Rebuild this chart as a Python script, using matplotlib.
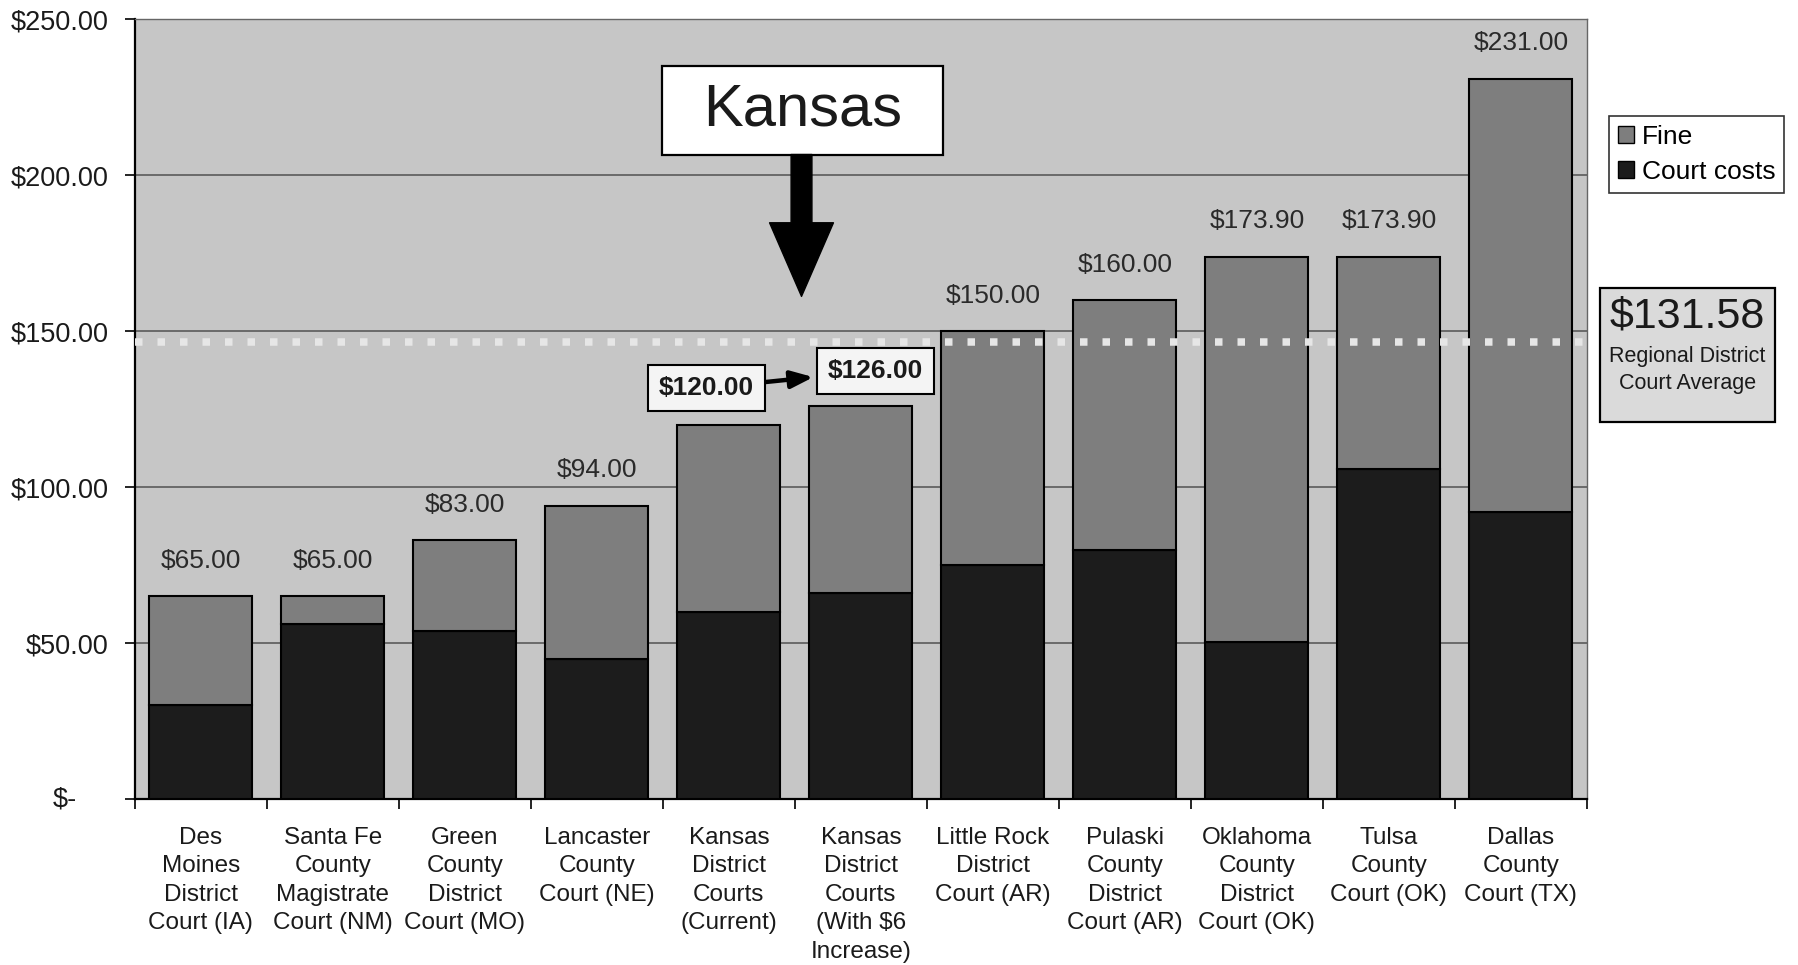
import matplotlib
matplotlib.use("Agg")
import matplotlib.pyplot as plt
from matplotlib.patches import Rectangle, Patch
import numpy as np

plt.rcParams['font.family'] = ['Liberation Sans', 'DejaVu Sans']

# ---------------- data ----------------
categories = [
    "Des\nMoines\nDistrict\nCourt (IA)",
    "Santa Fe\nCounty\nMagistrate\nCourt (NM)",
    "Green\nCounty\nDistrict\nCourt (MO)",
    "Lancaster\nCounty\nCourt (NE)",
    "Kansas\nDistrict\nCourts\n(Current)",
    "Kansas\nDistrict\nCourts\n(With $6\nIncrease)",
    "Little Rock\nDistrict\nCourt (AR)",
    "Pulaski\nCounty\nDistrict\nCourt (AR)",
    "Oklahoma\nCounty\nDistrict\nCourt (OK)",
    "Tulsa\nCounty\nCourt (OK)",
    "Dallas\nCounty\nCourt (TX)",
]
totals = [65.00, 65.00, 83.00, 94.00, 120.00, 126.00, 150.00, 160.00, 173.90, 173.90, 231.00]
court_costs = [30, 56, 54, 45, 60, 66, 75, 80, 50.5, 106, 92]
fines = [t - c for t, c in zip(totals, court_costs)]
total_labels = ["$65.00", "$65.00", "$83.00", "$94.00", "$120.00", "$126.00",
                "$150.00", "$160.00", "$173.90", "$173.90", "$231.00"]
boxed_labels = [4, 5]          # Kansas bars use boxed labels
y_ticks = [0, 50, 100, 150, 200, 250]
y_tick_labels = ["", "$50.00", "$100.00", "$150.00", "$200.00", "$250.00"]
average_label = "$131.58"
average_line_level = 146.5     # where the dotted line sits in the picture

# ---------------- style ----------------
bg_gray = "#c6c6c6"
fine_gray = "#7e7e7e"
court_black = "#1c1c1c"
text_col = "#1a1a1a"

fig = plt.figure(figsize=(17.99, 9.65), dpi=100)
fig.patch.set_facecolor("white")
ax = fig.add_axes([0.0750, 0.1720, 0.8071, 0.8078])
ax.set_facecolor(bg_gray)

x = np.arange(len(categories))
w = 0.78
ax.bar(x, court_costs, width=w, color=court_black, edgecolor="black", linewidth=1.5, zorder=3,
       label="Court costs")
ax.bar(x, fines, bottom=court_costs, width=w, color=fine_gray, edgecolor="black", linewidth=1.5,
       zorder=3, label="Fine")

ax.set_xlim(-0.5, len(categories) - 0.5)
ax.set_ylim(0, 250)

# grid
ax.set_yticks(y_ticks)
ax.set_yticklabels(y_tick_labels, fontsize=19.5, color=text_col)
ax.yaxis.grid(True, color="#5a5a5a", linewidth=1.2, zorder=1)
ax.set_axisbelow(True)
ax.tick_params(axis="y", length=7, width=1.2, pad=12, color="black")
ax.annotate("$-", xy=(0, 0), xycoords=("axes fraction", "data"), xytext=(-42, 0),
            textcoords="offset points", ha="right", va="center", fontsize=19.5, color=text_col)

ax.set_xticks(x)
ax.set_xticklabels(categories, fontsize=17.5, color=text_col, linespacing=1.38,
                   multialignment="center", va="top")
ax.tick_params(axis="x", length=0, pad=20)
ax.set_xticks(np.arange(len(categories) + 1) - 0.5, minor=True)
ax.tick_params(axis="x", which="minor", length=7, width=1.2, color="black")

for s in ["left", "bottom"]:
    ax.spines[s].set_color("black")
    ax.spines[s].set_linewidth(1.6)
for s in ["top", "right"]:
    ax.spines[s].set_color("#666666")
    ax.spines[s].set_linewidth(1.0)

# value labels
for i, (t, lab) in enumerate(zip(totals, total_labels)):
    if i in boxed_labels:
        continue
    ax.annotate(lab, xy=(x[i], t), xytext=(0, 17), textcoords="offset points",
                ha="center", va="bottom", fontsize=19, color="#2a2a2a", zorder=5)

# dotted average line
ax.axhline(average_line_level, xmin=0, xmax=1.004, color="#e6e6e6", linewidth=5.4,
           dashes=(1.0, 2.0), dash_capstyle="butt", zorder=4, clip_on=False)

# boxed Kansas labels with arrow
box_kw = dict(boxstyle="square,pad=0.42", facecolor="#f4f4f4", edgecolor="black", linewidth=1.5)
ax.text(5.11, 137.2, total_labels[5], ha="center", va="center", fontsize=19, fontweight="bold",
        color=text_col, bbox=box_kw, zorder=6)
ax.annotate(total_labels[4], xy=(4.64, 135.3), xytext=(3.83, 131.8), ha="center", va="center",
            fontsize=19, fontweight="bold", color=text_col, bbox=box_kw, zorder=6,
            arrowprops=dict(arrowstyle="-|>,head_length=0.9,head_width=0.35", color="black",
                            lw=3.2, shrinkA=0, shrinkB=0, mutation_scale=15))

# Kansas callout
ax.add_patch(Rectangle((3.49, 206.7), 5.62 - 3.49, 235.1 - 206.7, facecolor="white",
                       edgecolor="black", linewidth=1.6, zorder=6))
ax.text(4.555, 221.0, "Kansas", ha="center", va="center", fontsize=43, color=text_col, zorder=7)
ax.annotate("", xy=(4.55, 161.2), xytext=(4.55, 206.7),
            arrowprops=dict(arrowstyle="simple,head_length=5.3,head_width=4.6,tail_width=1.5",
                            mutation_scale=10, color="black", shrinkA=0, shrinkB=0), zorder=6)

# legend
handles = [Patch(facecolor=fine_gray, edgecolor="black", label="Fine"),
           Patch(facecolor=court_black, edgecolor="black", label="Court costs")]
leg = fig.legend(handles=handles, loc="upper left", bbox_to_anchor=(1609 / 1799, 1 - 116 / 965),
                 fontsize=19, frameon=True, fancybox=False, edgecolor="black",
                 handlelength=0.62, handleheight=0.62, handletextpad=0.3,
                 borderpad=0.33, labelspacing=0.42, borderaxespad=0)
leg.get_frame().set_linewidth(1.2)

# average box
fig.patches.append(Rectangle((1600 / 1799, 1 - 422 / 965), 175 / 1799, 134 / 965,
                             transform=fig.transFigure, facecolor="#dadada", edgecolor="black",
                             linewidth=1.6, zorder=1))
fig.text(1687.5 / 1799, 1 - 317 / 965, average_label, ha="center", va="center", fontsize=31,
         color=text_col, zorder=2)
fig.text(1687.5 / 1799, 1 - 370 / 965, "Regional District\nCourt Average", ha="center",
         va="center", fontsize=15.5, color=text_col, linespacing=1.38, zorder=2)

fig.savefig("out.png", dpi=100, facecolor="white")
